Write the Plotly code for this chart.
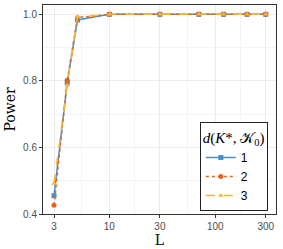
import plotly.graph_objects as go

L = [3, 4, 5, 10, 30, 70, 120, 200, 300]
power_d1 = [0.455, 0.795, 0.983, 1.0, 1.0, 1.0, 1.0, 1.0, 1.0]
power_d2 = [0.426, 0.802, 0.990, 1.0, 1.0, 1.0, 1.0, 1.0, 1.0]
power_d3 = [0.492, 0.787, 0.992, 1.0, 1.0, 1.0, 1.0, 1.0, 1.0]
series_names = ["1", "2", "3"]
x_ticks = [3, 10, 30, 100, 300]
x_minor = [5.477, 17.32, 54.77, 173.2]
y_ticks = [0.4, 0.6, 0.8, 1.0]
y_minor = [0.5, 0.7, 0.9]

colors = ["#4A8FC9", "#E4611E", "#F4B73A"]
symbols = ["square", "circle", "triangle-up"]
dashes = ["solid", "dot", "dash"]

fig = go.Figure()
for name, ys, c, s, d in zip(series_names, [power_d1, power_d2, power_d3], colors, symbols, dashes):
    fig.add_trace(go.Scatter(
        x=L, y=ys, name=name, mode="lines+markers",
        line=dict(color=c, width=1.5, dash=d),
        marker=dict(color=c, symbol=s, size=5),
    ))

fig.update_layout(
    width=283, height=249,
    margin=dict(l=43, r=7, t=5, b=35),
    paper_bgcolor="white", plot_bgcolor="white",
    legend=dict(
        title=dict(text="<i>d</i>(<i>K</i>*, 𝒦<sub>0</sub>)",
                   font=dict(family="Liberation Serif", size=15, color="black")),
        x=0.965, xanchor="right", y=0.012, yanchor="bottom",
        bordercolor="#222", borderwidth=1, bgcolor="white",
        font=dict(family="Liberation Sans", size=12, color="black"),
        tracegroupgap=7, itemwidth=30,
    ),
)
fig.update_xaxes(
    type="log", range=[0.373, 2.574],
    tickvals=x_ticks, ticktext=[str(v) for v in x_ticks],
    showgrid=True, gridcolor="#EBEBEB", gridwidth=1,
    minor=dict(tickvals=x_minor, showgrid=True, gridcolor="#F4F4F4", gridwidth=1, ticks=""),
    ticks="outside", ticklen=3, tickcolor="#333", tickwidth=1,
    tickfont=dict(family="Liberation Sans", size=10, color="#4D4D4D"),
    showline=True, linecolor="#333", linewidth=1, mirror=True, zeroline=False,
    title=dict(text="L", font=dict(family="DejaVu Serif", size=14, color="black"), standoff=2),
)
fig.update_yaxes(
    range=[0.4, 1.028],
    tickvals=y_ticks, ticktext=[f"{v:.1f}" for v in y_ticks],
    showgrid=True, gridcolor="#EBEBEB", gridwidth=1,
    minor=dict(tickvals=y_minor, showgrid=True, gridcolor="#F4F4F4", gridwidth=1, ticks=""),
    ticks="outside", ticklen=3, tickcolor="#333", tickwidth=1,
    tickfont=dict(family="Liberation Sans", size=10, color="#4D4D4D"),
    showline=True, linecolor="#333", linewidth=1, mirror=True, zeroline=False,
    title=dict(text="Power", font=dict(family="DejaVu Serif", size=14, color="black"), standoff=4),
)

fig.write_html("out.html", config={"displayModeBar": False},
               post_script="document.body.style.margin='0';")
